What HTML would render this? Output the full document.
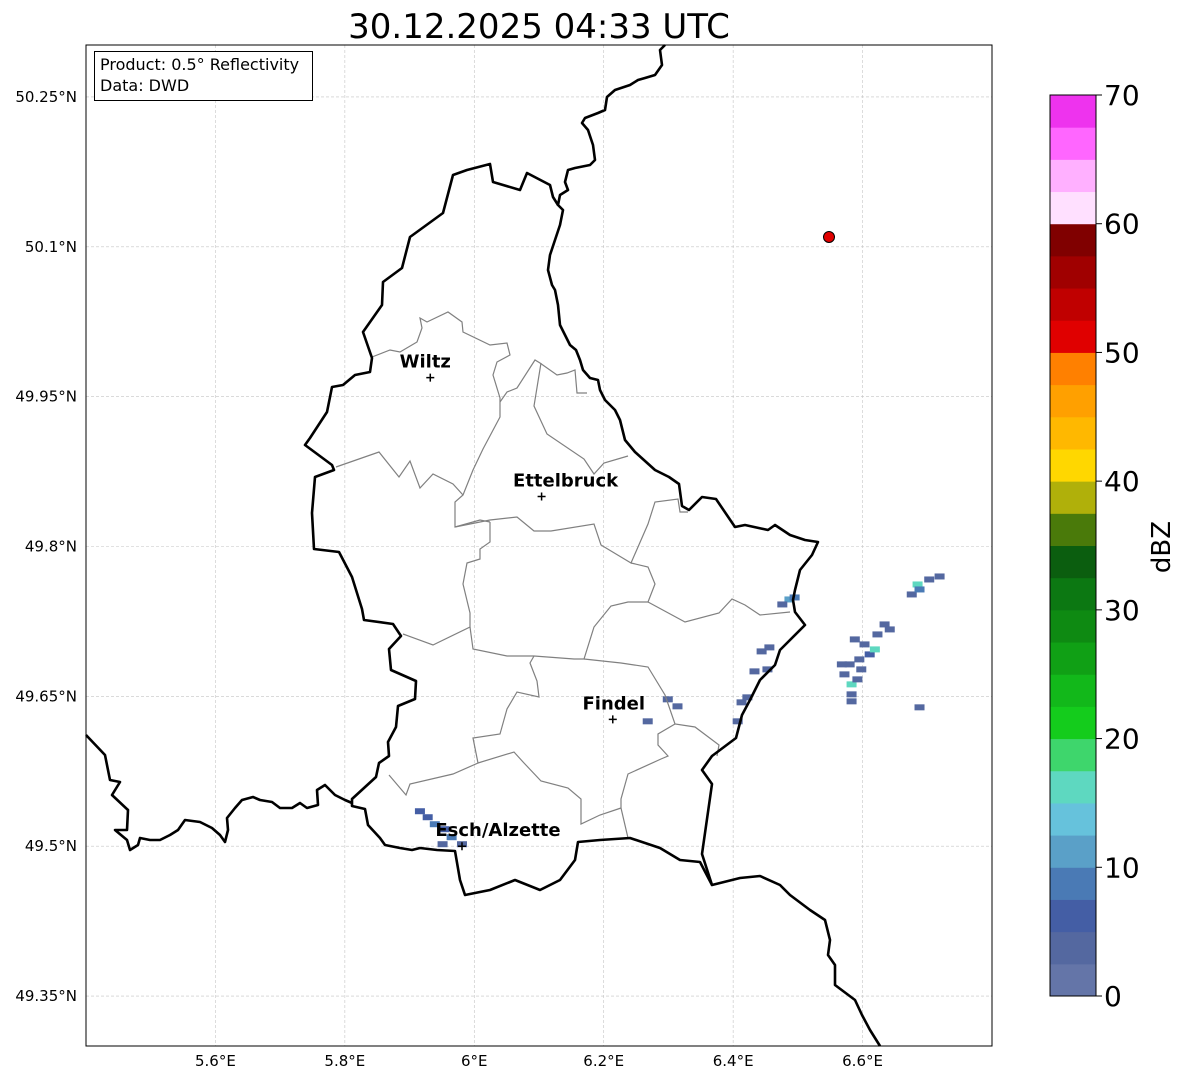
<!DOCTYPE html>
<html><head><meta charset="utf-8"><style>
html,body{margin:0;padding:0;background:#fff;width:1184px;height:1081px;overflow:hidden}
svg{display:block;font-family:"DejaVu Sans","Liberation Sans",sans-serif}
</style></head><body>
<svg id="chart" width="1184" height="1081" viewBox="0 0 1184 1081" xmlns="http://www.w3.org/2000/svg">
<text x="539" y="38" font-size="34" text-anchor="middle" fill="#000" font-family="DejaVu Sans, sans-serif">30.12.2025 04:33 UTC</text>
<g id="grid"></g>
<g id="echoes"></g>
<g fill="none" stroke="#808080" stroke-width="1.2">
<polyline points="336,467 379,452 399,477 410,461 420,488 433,474 453,484 463,495"/>
<polyline points="372,357 390,350 400,352 417,342 422,328 420,318 427,322 448,312 462,322 463,332 490,345 507,343 510,355 497,362 493,375 500,398 500,417 483,449 473,470 463,495 455,502 455,527 480,520 490,522"/>
<polyline points="500,402 507,392 517,388 535,360 540,363 557,375 567,373 575,370 577,393 587,393"/>
<polyline points="541,363 534,406 547,434 584,459 594,474 604,463 628,456"/>
<polyline points="455,527 490,520 517,517 534,531 551,531 594,524 601,545 631,563 648,524 655,502 678,499 680,512 688,512"/>
<polyline points="490,522 490,542 480,549 480,559 467,563 463,584 470,613 470,627 433,645 403,634"/>
<polyline points="470,627 473,649 507,656 534,656 574,659 584,659 594,627 611,606 628,602 648,602 655,584 648,567 631,563"/>
<polyline points="648,602 685,622 719,613 732,599 745,605 760,615 790,612"/>
<polyline points="534,656 530,663 537,681 539,697 517,692 507,709 500,734 473,738 478,763 453,774 410,784 406,795 389,775"/>
<polyline points="584,659 621,663 648,667 665,695 675,724 695,727 719,745 717,756"/>
<polyline points="675,724 658,734 658,745 668,756 661,759 628,774 621,799 621,808 628,838"/>
<polyline points="478,763 514,752 524,763 541,781 568,788 581,799 581,824 600,815 621,808"/>
</g>
<g fill="none" stroke="#000" stroke-width="2.6" stroke-linejoin="round">
<polyline points="665,45 660,50 662,65 655,75 645,78 638,80 630,85 615,90 607,97 605,110 598,113 585,118 582,123 588,130 593,145 595,160 590,165 575,168 568,170 565,182 568,190 560,195 558,205 563,210 560,225 555,240 550,255 548,270 552,285 555,290 558,305 560,325 565,335 570,345 576,350 580,360 583,370 590,378 598,380 600,390 605,400 615,410 620,420 625,440 635,452 655,470 669,477 679,484 682,506 689,510 702,497 716,499 735,527 745,525 768,530 775,525 790,535 805,540 818,542 812,555 800,570 795,590 793,600 795,612 805,625 790,640 780,650 775,665 760,680 750,700 742,715 736,738 712,756 702,770 712,784 709,805 702,854 712,885 740,878 760,876 780,885 790,895 810,910 825,920 830,940 828,955 835,965 835,985 855,1000 862,1015 870,1030 880,1046"/>
<polyline points="558,205 553,197 550,185 527,173 520,190 493,182 490,164 467,170 453,175 443,213 410,237 402,268 383,282 382,305 363,332 372,358 370,372 355,375 343,385 332,387 327,412 310,438 305,445 332,465 334,470 315,477 312,513 314,549 339,552 352,577 362,609 364,620 393,624 401,636 389,649 391,670 416,681 415,699 398,706 396,727 388,742 389,756 379,763 376,777 352,799 352,806 365,809 368,825 380,838 385,845 400,848 412,850 420,848 437,850 455,851 460,880 465,895 490,890 515,880 540,890 560,880 575,860 578,842 600,840 630,838 660,848 680,860 700,862 712,885"/>
<polyline points="86,735 105,755 110,780 120,782 112,795 128,810 127,830 115,830 127,840 130,850 138,845 140,838 150,840 160,840 170,835 178,830 185,820 200,822 212,828 220,835 225,842 228,830 227,818 235,808 242,800 253,797 260,800 272,802 280,808 292,808 300,803 307,808 318,805 317,790 325,785 335,795 345,800 352,803"/>
</g>
<g id="cities"></g>
<circle cx="829" cy="237" r="5.5" fill="#e00000" stroke="#000" stroke-width="1"/>
<rect x="86" y="45" width="906" height="1001" fill="none" stroke="#000" stroke-width="1"/>
<g>
<rect x="94.5" y="51.5" width="218" height="49" fill="#fff" stroke="#000" stroke-width="1"/>
<text x="100" y="70" font-size="16" font-family="DejaVu Sans, sans-serif">Product: 0.5° Reflectivity</text>
<text x="100" y="91" font-size="16" font-family="DejaVu Sans, sans-serif">Data: DWD</text>
</g>
<g id="xticks"></g>
<g id="yticks"></g>
<g id="cbar"></g>
<text transform="translate(1170,547) rotate(-90)" font-size="26" text-anchor="middle" font-family="DejaVu Sans, sans-serif">dBZ</text>
</svg>
<script>
const lonTicks=[5.6,5.8,6.0,6.2,6.4,6.6];
const lonLabels=["5.6°E","5.8°E","6°E","6.2°E","6.4°E","6.6°E"];
const latTicks=[50.25,50.1,49.95,49.8,49.65,49.5,49.35];
const latLabels=["50.25°N","50.1°N","49.95°N","49.8°N","49.65°N","49.5°N","49.35°N"];
const cbarTicks=[0,10,20,30,40,50,60,70];
const cbarColors=["#6475a8","#5468a0","#445ea5","#4a7ab5","#5aa0c8","#66c2dc","#5ed8c0","#3ed66c","#14cc1c","#12b81a","#10a015","#0e8a12","#0c7812","#0b5e0f","#4a7a0a","#b0b00a","#ffd700","#ffb800","#ffa000","#ff8000","#e00000","#c00000","#a00000","#800000","#ffe0ff","#ffb0ff","#ff66ff","#ee33ee"];
const echoLon=[6.634,6.623,6.642,6.603,6.588,6.580,6.595,6.611,6.619,6.598,6.572,6.583,6.583,6.583,6.568,6.592,6.719,6.703,6.685,6.676,6.688,6.688,6.487,6.476,6.495,6.456,6.444,6.433,6.453,6.422,6.413,6.407,6.299,6.314,6.268,5.916,5.928,5.939,5.954,5.965,5.981,5.951];
const echoLat=[49.722,49.712,49.717,49.702,49.707,49.682,49.687,49.692,49.697,49.677,49.672,49.662,49.652,49.645,49.682,49.667,49.770,49.767,49.762,49.752,49.757,49.639,49.747,49.742,49.749,49.699,49.695,49.675,49.677,49.649,49.644,49.625,49.647,49.640,49.625,49.535,49.529,49.522,49.517,49.509,49.502,49.502];
const echoDbz=[4,4,4,3,4,4,4,5,16,4,3,16,4,3,3,4,4,4,17,4,8,3,12,4,8,4,4,4,4,4,4,3,4,4,3,6,6,8,6,8,4,3];
const cities=["Wiltz","Ettelbruck","Findel","Esch/Alzette"];
const cityLon=[5.932,6.104,6.214,5.981];
const cityLat=[49.969,49.850,49.627,49.500];
const cityLabelDx=[-5,24,1,36];

const NS="http://www.w3.org/2000/svg";
const X0=86,X1=992,Y0=45,Y1=1046,LON0=5.4,LON1=6.8,LAT0=49.3,LAT1=50.302;
function xS(lon){return X0+(lon-LON0)/(LON1-LON0)*(X1-X0);}
function yS(lat){return Y1-(lat-LAT0)/(LAT1-LAT0)*(Y1-Y0);}
const CB_T=95,CB_B=996;
function cS(v){return CB_B-v/70*(CB_B-CB_T);}
function colorFor(v){return cbarColors[Math.max(0,Math.min(27,Math.floor(v/2.5)))];}
function mk(tag,attrs,parent){const e=document.createElementNS(NS,tag);for(const k in attrs)e.setAttribute(k,attrs[k]);parent.appendChild(e);return e;}

const grid=document.getElementById('grid');
lonTicks.forEach((v,i)=>{
  const l=mk('line',{x1:xS(v),x2:xS(v),y1:Y0,y2:Y1,stroke:'#c4c4c4','stroke-width':0.6,'stroke-dasharray':'3,2'},grid);
  
  
  const t=mk('text',{x:xS(v),y:1066,'font-size':15,'text-anchor':'middle','font-family':'DejaVu Sans, sans-serif'},document.getElementById('xticks'));
  t.textContent=lonLabels[i];
  
  
});
latTicks.forEach((v,i)=>{
  const l=mk('line',{x1:X0,x2:X1,y1:yS(v),y2:yS(v),stroke:'#c4c4c4','stroke-width':0.6,'stroke-dasharray':'3,2'},grid);
  
  
  const t=mk('text',{x:77,y:yS(v)+5,'font-size':15,'text-anchor':'end','font-family':'DejaVu Sans, sans-serif'},document.getElementById('yticks'));
  t.textContent=latLabels[i];
  
  
});
const eg=document.getElementById('echoes');
echoLon.forEach((lon,i)=>{
  const r=mk('rect',{x:xS(lon)-5,y:yS(echoLat[i])-3,width:10,height:6,fill:colorFor(echoDbz[i])},eg);
  
  
});
const cg=document.getElementById('cities');
cities.forEach((c,i)=>{
  const x=xS(cityLon[i]),y=yS(cityLat[i]);
  const p=mk('path',{d:`M${x-4},${y}H${x+4}M${x},${y-4}V${y+4}`,stroke:'#000','stroke-width':1.5},cg);
  
  
  const t=mk('text',{x:x+cityLabelDx[i],y:y-10,'font-size':18,'font-weight':'bold','text-anchor':'middle','font-family':'DejaVu Sans, sans-serif'},cg);
  t.textContent=c;
  
  
});
const cb=document.getElementById('cbar');
cbarColors.forEach((col,i)=>{
  const y1=cS((i+1)*2.5),y2=cS(i*2.5);
  const r=mk('rect',{x:1050,y:y1,width:46,height:y2-y1+0.5,fill:col},cb);
  
  
});
mk('rect',{x:1050,y:CB_T,width:46,height:CB_B-CB_T,fill:'none',stroke:'#000','stroke-width':1},cb);
cbarTicks.forEach(v=>{
  mk('line',{x1:1096,x2:1102,y1:cS(v),y2:cS(v),stroke:'#000','stroke-width':1},cb);
  const t=mk('text',{x:1104,y:cS(v)+10,'font-size':28,'font-family':'DejaVu Sans, sans-serif'},cb);
  t.textContent=v;
  
  
});
</script>
</body></html>
